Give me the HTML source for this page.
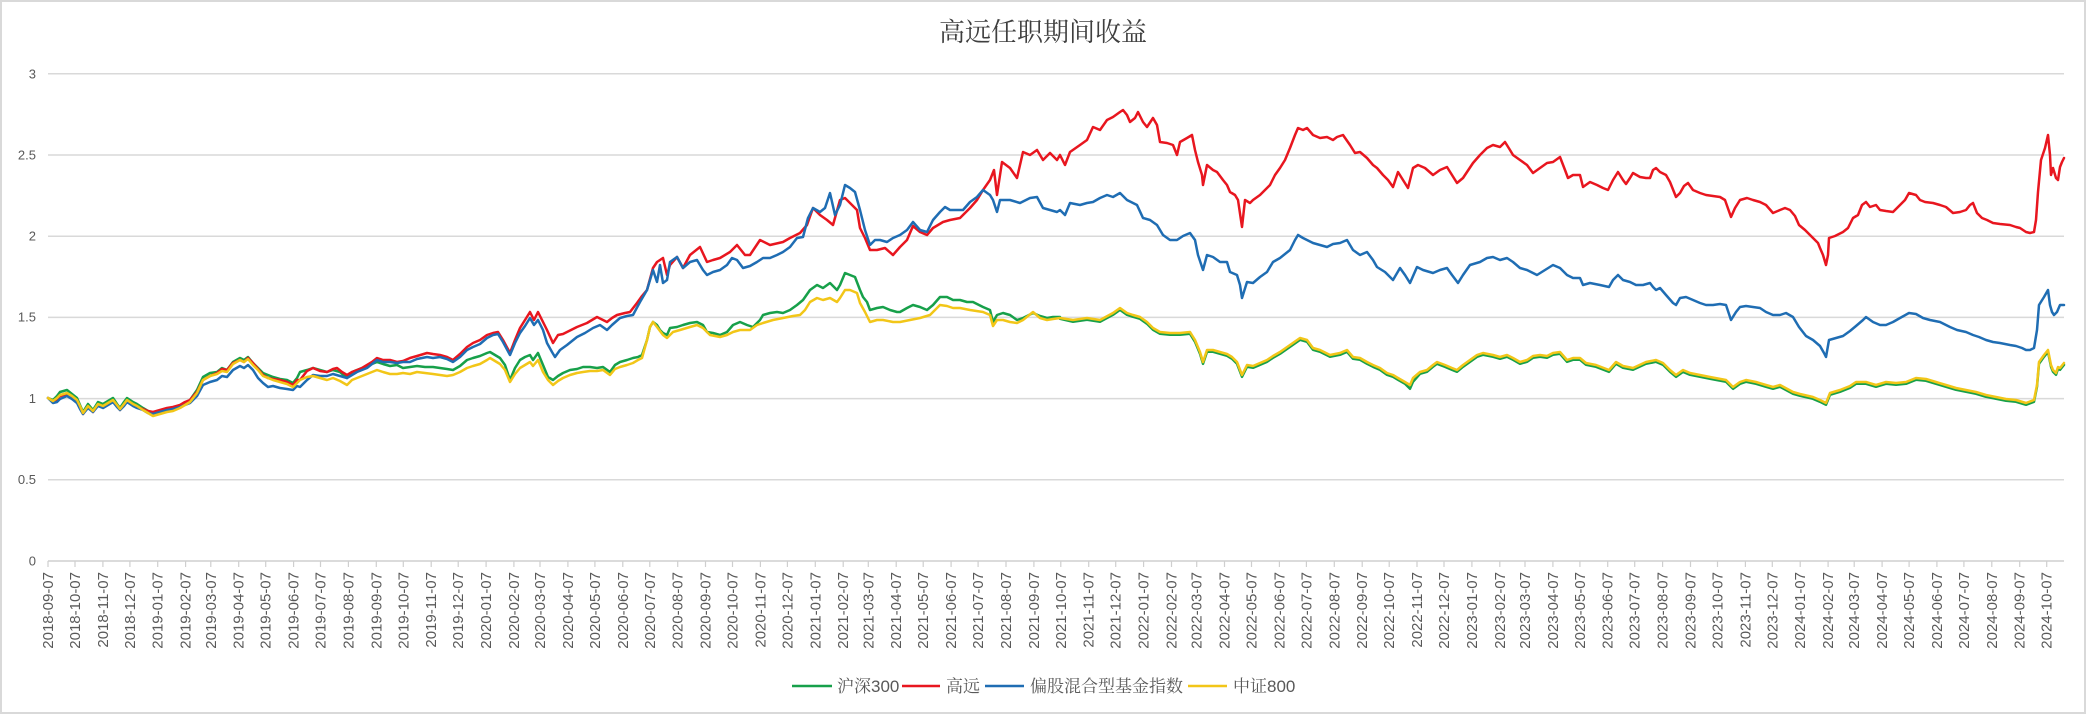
<!DOCTYPE html>
<html>
<head>
<meta charset="utf-8">
<style>
html,body{margin:0;padding:0;background:#fff;}
svg{display:block;}
.ax{font-family:"Liberation Sans","Noto Sans CJK SC",sans-serif;fill:#595959;}
</style>
</head>
<body>
<svg width="2086" height="714" viewBox="0 0 2086 714" xmlns="http://www.w3.org/2000/svg">
<rect x="1" y="1" width="2084" height="712" fill="#ffffff" stroke="#d9d9d9" stroke-width="2"/>

<text x="1043" y="41" text-anchor="middle" font-family="'Liberation Serif','Noto Serif CJK SC',serif" font-size="26" fill="#3f3f3f">高远任职期间收益</text>

<!-- gridlines -->
<g stroke="#d9d9d9" stroke-width="1.5">
<line x1="48" y1="73.8" x2="2064" y2="73.8"/>
<line x1="48" y1="155" x2="2064" y2="155"/>
<line x1="48" y1="236.2" x2="2064" y2="236.2"/>
<line x1="48" y1="317.4" x2="2064" y2="317.4"/>
<line x1="48" y1="398.6" x2="2064" y2="398.6"/>
<line x1="48" y1="479.8" x2="2064" y2="479.8"/>
</g>
<line x1="48" y1="561" x2="2064" y2="561" stroke="#cfcfcf" stroke-width="1.5"/>

<!-- y labels -->
<g class="ax" font-size="13" text-anchor="end">
<text x="36" y="78.5">3</text>
<text x="36" y="159.5">2.5</text>
<text x="36" y="240.5">2</text>
<text x="36" y="321.5">1.5</text>
<text x="36" y="403">1</text>
<text x="36" y="484">0.5</text>
<text x="36" y="565.5">0</text>
</g>

<!-- ticks -->
<path stroke="#cfcfcf" stroke-width="1.2" fill="none" d="M48 561v6M75 561v6M102.9 561v6M129.9 561v6M157.7 561v6M185.6 561v6M210.8 561v6M238.7 561v6M265.7 561v6M293.6 561v6M320.5 561v6M348.4 561v6M376.3 561v6M403.3 561v6M431.2 561v6M458.2 561v6M486.1 561v6M513.9 561v6M540 561v6M567.9 561v6M594.9 561v6M622.8 561v6M649.8 561v6M677.7 561v6M705.5 561v6M732.5 561v6M760.4 561v6M787.4 561v6M815.3 561v6M843.2 561v6M868.3 561v6M896.2 561v6M923.2 561v6M951.1 561v6M978.1 561v6M1006 561v6M1033.9 561v6M1060.8 561v6M1088.7 561v6M1115.7 561v6M1143.6 561v6M1171.5 561v6M1196.7 561v6M1224.5 561v6M1251.5 561v6M1279.4 561v6M1306.4 561v6M1334.3 561v6M1362.2 561v6M1389.2 561v6M1417 561v6M1444 561v6M1471.9 561v6M1499.8 561v6M1525 561v6M1552.9 561v6M1579.9 561v6M1607.7 561v6M1634.7 561v6M1662.6 561v6M1690.5 561v6M1717.5 561v6M1745.4 561v6M1772.3 561v6M1800.2 561v6M1828.1 561v6M1854.2 561v6M1882.1 561v6M1909.1 561v6M1936.9 561v6M1963.9 561v6M1991.8 561v6M2019.7 561v6M2046.7 561v6"/>

<!-- x labels -->
<g class="ax" font-size="15" text-anchor="end">
<text transform="translate(53,572) rotate(-90)">2018-09-07</text>
<text transform="translate(80,572) rotate(-90)">2018-10-07</text>
<text transform="translate(107.9,572) rotate(-90)">2018-11-07</text>
<text transform="translate(134.9,572) rotate(-90)">2018-12-07</text>
<text transform="translate(162.7,572) rotate(-90)">2019-01-07</text>
<text transform="translate(190.6,572) rotate(-90)">2019-02-07</text>
<text transform="translate(215.8,572) rotate(-90)">2019-03-07</text>
<text transform="translate(243.7,572) rotate(-90)">2019-04-07</text>
<text transform="translate(270.7,572) rotate(-90)">2019-05-07</text>
<text transform="translate(298.6,572) rotate(-90)">2019-06-07</text>
<text transform="translate(325.5,572) rotate(-90)">2019-07-07</text>
<text transform="translate(353.4,572) rotate(-90)">2019-08-07</text>
<text transform="translate(381.3,572) rotate(-90)">2019-09-07</text>
<text transform="translate(408.3,572) rotate(-90)">2019-10-07</text>
<text transform="translate(436.2,572) rotate(-90)">2019-11-07</text>
<text transform="translate(463.2,572) rotate(-90)">2019-12-07</text>
<text transform="translate(491.1,572) rotate(-90)">2020-01-07</text>
<text transform="translate(518.9,572) rotate(-90)">2020-02-07</text>
<text transform="translate(545,572) rotate(-90)">2020-03-07</text>
<text transform="translate(572.9,572) rotate(-90)">2020-04-07</text>
<text transform="translate(599.9,572) rotate(-90)">2020-05-07</text>
<text transform="translate(627.8,572) rotate(-90)">2020-06-07</text>
<text transform="translate(654.8,572) rotate(-90)">2020-07-07</text>
<text transform="translate(682.7,572) rotate(-90)">2020-08-07</text>
<text transform="translate(710.5,572) rotate(-90)">2020-09-07</text>
<text transform="translate(737.5,572) rotate(-90)">2020-10-07</text>
<text transform="translate(765.4,572) rotate(-90)">2020-11-07</text>
<text transform="translate(792.4,572) rotate(-90)">2020-12-07</text>
<text transform="translate(820.3,572) rotate(-90)">2021-01-07</text>
<text transform="translate(848.2,572) rotate(-90)">2021-02-07</text>
<text transform="translate(873.3,572) rotate(-90)">2021-03-07</text>
<text transform="translate(901.2,572) rotate(-90)">2021-04-07</text>
<text transform="translate(928.2,572) rotate(-90)">2021-05-07</text>
<text transform="translate(956.1,572) rotate(-90)">2021-06-07</text>
<text transform="translate(983.1,572) rotate(-90)">2021-07-07</text>
<text transform="translate(1011,572) rotate(-90)">2021-08-07</text>
<text transform="translate(1038.9,572) rotate(-90)">2021-09-07</text>
<text transform="translate(1065.8,572) rotate(-90)">2021-10-07</text>
<text transform="translate(1093.7,572) rotate(-90)">2021-11-07</text>
<text transform="translate(1120.7,572) rotate(-90)">2021-12-07</text>
<text transform="translate(1148.6,572) rotate(-90)">2022-01-07</text>
<text transform="translate(1176.5,572) rotate(-90)">2022-02-07</text>
<text transform="translate(1201.7,572) rotate(-90)">2022-03-07</text>
<text transform="translate(1229.5,572) rotate(-90)">2022-04-07</text>
<text transform="translate(1256.5,572) rotate(-90)">2022-05-07</text>
<text transform="translate(1284.4,572) rotate(-90)">2022-06-07</text>
<text transform="translate(1311.4,572) rotate(-90)">2022-07-07</text>
<text transform="translate(1339.3,572) rotate(-90)">2022-08-07</text>
<text transform="translate(1367.2,572) rotate(-90)">2022-09-07</text>
<text transform="translate(1394.2,572) rotate(-90)">2022-10-07</text>
<text transform="translate(1422,572) rotate(-90)">2022-11-07</text>
<text transform="translate(1449,572) rotate(-90)">2022-12-07</text>
<text transform="translate(1476.9,572) rotate(-90)">2023-01-07</text>
<text transform="translate(1504.8,572) rotate(-90)">2023-02-07</text>
<text transform="translate(1530,572) rotate(-90)">2023-03-07</text>
<text transform="translate(1557.9,572) rotate(-90)">2023-04-07</text>
<text transform="translate(1584.9,572) rotate(-90)">2023-05-07</text>
<text transform="translate(1612.7,572) rotate(-90)">2023-06-07</text>
<text transform="translate(1639.7,572) rotate(-90)">2023-07-07</text>
<text transform="translate(1667.6,572) rotate(-90)">2023-08-07</text>
<text transform="translate(1695.5,572) rotate(-90)">2023-09-07</text>
<text transform="translate(1722.5,572) rotate(-90)">2023-10-07</text>
<text transform="translate(1750.4,572) rotate(-90)">2023-11-07</text>
<text transform="translate(1777.3,572) rotate(-90)">2023-12-07</text>
<text transform="translate(1805.2,572) rotate(-90)">2024-01-07</text>
<text transform="translate(1833.1,572) rotate(-90)">2024-02-07</text>
<text transform="translate(1859.2,572) rotate(-90)">2024-03-07</text>
<text transform="translate(1887.1,572) rotate(-90)">2024-04-07</text>
<text transform="translate(1914.1,572) rotate(-90)">2024-05-07</text>
<text transform="translate(1941.9,572) rotate(-90)">2024-06-07</text>
<text transform="translate(1968.9,572) rotate(-90)">2024-07-07</text>
<text transform="translate(1996.8,572) rotate(-90)">2024-08-07</text>
<text transform="translate(2024.7,572) rotate(-90)">2024-09-07</text>
<text transform="translate(2051.7,572) rotate(-90)">2024-10-07</text>
</g>

<g fill="none" stroke-width="2.5" stroke-linejoin="round" stroke-linecap="round">
<!-- 沪深300 green -->
<polyline stroke="#17a04a" points="48,398 53,400 57,396 60,392 67,390 72,394 77,398 80,405 83,412 88,404 93,410 98,402 103,404 108,401 113,398 117,404 120,408 124,402 127,398 133,402 137,404 143,408 148,411 153,413 160,412 167,410 173,409 180,407 185,404 190,400 197,390 203,377 210,373 217,372 222,368 227,370 233,362 240,358 244,360 248,357 253,363 258,368 263,373 268,375 273,377 280,379 287,380 293,383 297,378 300,372 307,370 313,368 320,370 327,372 333,370 340,372 347,378 352,372 357,370 362,368 367,366 372,364 377,362 383,364 390,366 397,365 403,368 410,367 417,366 425,367 433,367 440,368 447,369 453,370 460,366 467,360 473,358 480,356 487,353 490,352 495,355 500,358 505,365 510,380 515,368 520,360 525,357 530,355 533,360 538,353 543,365 548,377 553,380 558,376 563,373 570,370 577,369 583,367 590,367 597,368 603,367 610,372 615,365 620,362 627,360 633,358 638,357 642,355 647,340 650,327 653,322 657,325 660,330 663,333 667,335 670,328 677,327 683,325 690,323 697,322 703,325 707,332 713,333 720,335 727,332 733,325 740,322 747,325 753,327 760,320 763,315 770,313 777,312 783,313 790,310 797,305 803,300 810,290 817,285 823,288 830,283 837,290 840,285 845,273 850,275 855,277 860,290 863,297 867,302 870,310 877,308 883,307 890,310 897,312 900,312 907,308 913,305 920,307 927,310 933,305 940,297 947,297 953,300 960,300 967,302 973,302 983,307 990,310 993,322 997,315 1003,313 1010,315 1017,320 1023,318 1033,313 1040,316 1047,318 1053,317 1060,317"/>
<polyline stroke="#17a04a" transform="translate(0,1.8)" points="1060,317 1073,320 1087,318 1100,320 1113,313 1120,308 1127,313 1133,315 1140,317 1147,322 1153,328 1160,332 1170,333 1180,333 1190,332 1195,340 1200,352 1203,362 1207,350 1213,350 1220,352 1227,354 1232,357 1237,362 1242,375 1247,365 1253,366 1260,363 1267,360 1273,356 1280,352 1290,345 1300,338 1307,340 1313,348 1320,350 1330,355 1340,353 1347,350 1353,357 1360,358 1367,362 1373,365 1380,368 1387,373 1393,375 1398,378 1405,382 1410,387 1413,380 1420,372 1427,370 1433,365 1437,362 1445,365 1452,368 1457,370 1463,365 1470,360 1477,355 1483,353 1493,355 1500,357 1507,355 1513,358 1520,362 1527,360 1533,356 1540,355 1547,356 1553,353 1560,352 1567,360 1573,358 1580,358 1586,363 1596,365 1609,370 1616,362 1623,366 1633,368 1646,362 1656,360 1663,363 1670,370 1676,375 1683,370 1690,373 1700,375 1710,377 1726,380 1733,387 1740,382 1746,380 1756,382 1766,385 1773,387 1780,385 1793,392 1800,394 1813,397 1820,400 1826,403 1830,393 1840,390 1850,386 1856,382 1866,382 1876,385 1886,382 1896,383 1906,382 1916,378 1926,379 1936,382 1946,385 1956,388 1966,390 1976,392 1986,395 1996,397 2006,399 2016,400 2026,403 2034,400 2037,385 2039,362 2044,355 2048,350 2051,365 2053,370 2056,373 2058,367 2060,368 2064,363"/>

<!-- 高远 red -->
<polyline stroke="#e8161f" points="48,398 53,402 57,400 60,396 67,394 72,397 77,401 80,408 83,414 88,407 93,412 98,405 103,407 108,404 113,401 117,406 120,410 124,405 127,401 133,405 137,407 143,409 148,411 153,412 160,410 167,408 173,407 180,405 185,402 190,400 197,392 203,380 210,376 217,373 222,369 227,370 233,363 240,360 244,362 248,358 253,363 258,369 263,375 268,378 273,379 280,380 287,382 293,385 297,380 300,380 307,371 313,368 320,371 327,372 333,369 337,368 342,372 347,375 352,372 357,370 362,368 367,365 372,362 377,358 383,360 390,360 397,362 403,361 410,358 417,356 427,353 433,354 440,355 447,357 453,360 460,354 467,347 473,343 480,340 487,335 493,333 498,332 503,340 510,353 515,340 520,328 525,320 530,312 534,320 538,312 543,322 547,330 553,343 558,335 563,334 567,332 577,327 587,323 597,317 603,320 607,322 612,318 617,315 625,313 630,312 637,303 642,296 647,290 653,268 657,262 663,258 667,275 670,265 677,257 683,268 690,255 700,247 707,262 713,260 720,258 730,252 737,245 745,255 750,255 760,240 770,245 783,242 790,238 800,233 807,225 813,208 820,215 827,220 833,225 840,200 845,198 850,203 857,210 860,228 865,238 870,250 877,250 885,248 893,255 900,247 907,240 913,226 920,232 927,235 933,228 943,222 950,220 960,218 970,208 977,200 983,190 990,180 994,170 997,195 1002,162 1010,168 1017,178 1023,152 1030,155 1037,150 1043,160 1050,153 1057,160 1060,155 1065,165 1070,152 1080,145 1087,140 1093,127 1100,130 1107,120 1113,117 1120,112 1123,110 1127,115 1130,122 1135,118 1138,112 1143,122 1147,127 1153,118 1157,125 1160,142 1167,143 1173,145 1177,155 1180,142 1187,138 1192,135 1195,150 1198,162 1202,175 1203,185 1207,165 1213,170 1217,172 1223,180 1227,185 1230,192 1235,195 1238,200 1242,227 1245,200 1250,203 1253,200 1260,195 1265,190 1270,185 1275,175 1280,168 1285,160 1290,148 1295,135 1298,128 1303,130 1307,128 1313,135 1320,138 1327,137 1333,140 1337,137 1343,135 1350,145 1355,153 1360,152 1367,158 1373,165 1377,168 1383,175 1388,180 1393,187 1398,172 1403,180 1408,188 1413,168 1418,165 1425,168 1433,175 1440,170 1447,167 1452,175 1457,183 1463,178 1467,172 1473,163 1480,155 1487,148 1493,145 1500,147 1505,142 1510,150 1513,155 1520,160 1527,165 1533,173 1540,168 1547,163 1553,162 1560,157 1565,170 1568,178 1573,175 1580,175 1583,187 1590,182 1597,185 1603,188 1608,190 1613,180 1618,172 1623,180 1626,184 1630,178 1633,173 1640,177 1646,178 1650,178 1653,170 1656,168 1660,172 1666,175 1670,182 1676,197 1680,193 1684,186 1688,183 1693,190 1700,193 1706,195 1713,196 1720,197 1725,200 1731,217 1735,208 1740,200 1747,198 1753,200 1760,202 1766,205 1773,213 1780,210 1785,208 1790,210 1795,216 1799,225 1805,230 1813,238 1818,243 1820,248 1823,255 1826,265 1828,255 1829,238 1835,236 1843,232 1848,228 1853,218 1858,215 1862,205 1866,202 1870,207 1876,205 1880,210 1886,211 1893,212 1900,205 1905,200 1909,193 1916,195 1920,200 1925,202 1933,203 1940,205 1946,207 1953,213 1960,212 1966,210 1970,205 1973,203 1977,213 1982,218 1987,220 1993,223 2000,224 2010,225 2016,227 2020,228 2026,232 2030,233 2034,232 2036,220 2038,192 2041,160 2045,148 2048,135 2050,155 2051,175 2053,168 2056,178 2058,180 2060,167 2062,162 2064,158"/>

<!-- 偏股混合型基金指数 blue -->
<polyline stroke="#1f6db3" points="48,398 53,403 57,402 60,399 67,396 72,399 77,403 80,409 83,414 88,408 93,412 98,406 103,408 108,405 113,402 117,407 120,410 124,406 127,402 133,406 137,408 143,410 148,413 153,414 160,412 167,410 173,409 180,407 185,405 190,403 197,396 203,385 210,382 217,380 222,376 227,377 233,370 240,366 244,368 248,365 253,370 258,378 263,383 268,387 273,386 280,388 287,389 293,390 297,386 300,387 307,380 313,375 320,376 327,376 333,374 340,376 347,378 352,375 357,372 362,370 367,368 372,364 377,360 383,362 390,362 397,363 403,362 410,362 417,359 427,357 433,358 440,357 447,359 453,362 460,357 467,350 473,347 480,344 487,338 493,335 498,334 503,342 510,355 515,343 520,333 525,326 530,318 534,325 538,320 543,330 547,343 552,352 555,357 560,350 567,345 577,337 585,333 593,328 600,325 607,330 612,325 620,318 627,316 633,315 640,302 647,290 653,270 657,282 660,265 663,283 667,280 670,262 677,257 683,268 690,262 697,260 703,270 707,275 713,272 720,270 727,265 732,258 737,260 743,268 750,266 757,262 763,258 770,258 777,255 783,252 790,247 797,238 803,237 808,218 813,208 820,212 825,208 830,193 835,215 840,205 845,185 850,188 855,192 860,210 865,230 870,245 875,240 880,240 887,242 893,238 900,235 907,230 913,222 920,230 927,232 933,220 940,212 945,207 950,210 955,210 963,210 970,202 977,197 983,190 990,195 993,200 997,212 1000,200 1010,200 1020,203 1030,198 1037,197 1043,208 1050,210 1057,212 1060,210 1065,215 1070,203 1080,205 1087,203 1093,202 1100,198 1107,195 1113,197 1120,193 1127,200 1133,203 1137,205 1143,218 1150,220 1157,225 1160,230 1163,235 1170,240 1177,240 1183,236 1190,233 1195,240 1198,255 1203,270 1207,255 1213,257 1220,262 1227,262 1230,272 1237,275 1240,285 1242,298 1247,282 1253,283 1260,277 1267,272 1273,262 1280,258 1290,250 1295,240 1298,235 1303,238 1313,243 1327,247 1333,244 1340,243 1347,240 1353,250 1360,255 1367,252 1373,260 1377,267 1385,272 1393,280 1400,268 1405,275 1410,283 1417,267 1423,270 1433,273 1440,270 1447,268 1452,275 1458,283 1463,275 1470,265 1480,262 1487,258 1493,257 1500,260 1507,258 1513,262 1520,268 1527,270 1537,275 1545,270 1553,265 1560,268 1567,275 1573,278 1580,278 1583,285 1590,283 1600,285 1609,287 1613,280 1618,275 1623,280 1630,282 1636,285 1643,285 1650,283 1653,287 1656,290 1660,288 1666,295 1673,303 1676,305 1680,298 1686,297 1693,300 1700,303 1706,305 1713,305 1720,304 1726,305 1731,320 1736,312 1740,307 1746,306 1753,307 1760,308 1766,312 1773,315 1780,315 1786,313 1793,317 1799,327 1806,336 1813,340 1820,346 1824,353 1826,357 1829,340 1836,338 1843,336 1850,331 1856,326 1863,320 1866,317 1873,322 1880,325 1886,325 1893,322 1900,318 1909,313 1916,314 1923,318 1930,320 1940,322 1950,327 1957,330 1966,332 1973,335 1979,337 1986,340 1993,342 2000,343 2010,345 2016,346 2022,348 2026,350 2030,350 2034,348 2037,330 2039,305 2044,297 2048,290 2050,305 2052,312 2054,315 2057,312 2060,305 2064,305"/>

<!-- 中证800 yellow -->
<polyline stroke="#f2c618" points="48,398 53,401 57,398 60,395 67,393 72,396 77,400 80,406 83,413 88,406 93,411 98,404 103,406 108,403 113,400 117,405 120,409 124,404 127,400 133,404 137,406 143,410 148,413 153,416 160,414 167,412 173,411 180,408 185,405 190,402 197,393 203,380 210,376 217,374 222,371 227,372 233,364 240,360 244,362 248,359 253,365 258,370 263,376 268,378 273,380 280,382 287,384 293,387 297,383 300,380 307,377 313,376 320,378 327,380 333,378 340,381 347,385 352,380 357,378 362,376 367,374 372,372 377,370 383,372 390,374 397,374 403,373 410,374 417,372 425,373 433,374 440,375 447,376 453,375 460,372 467,368 473,366 480,364 487,360 490,358 495,361 500,364 505,370 510,382 515,374 520,368 525,365 530,362 533,366 538,360 543,372 548,380 553,385 558,381 563,378 570,375 577,373 583,372 590,371 597,371 603,370 610,375 615,369 620,367 627,365 633,363 638,360 642,358 647,340 650,327 653,322 657,327 663,335 667,338 673,332 680,330 690,327 697,325 703,328 710,335 720,337 727,335 733,332 740,330 750,330 757,325 763,323 773,320 783,318 793,316 800,315 805,310 810,302 817,298 823,300 830,298 837,302 840,298 845,290 850,290 857,293 860,303 865,312 870,322 877,320 883,320 893,322 900,322 910,320 920,318 930,315 940,305 947,306 953,308 960,308 970,310 983,312 990,315 993,326 997,320 1003,320 1010,322 1017,323 1023,320 1033,312 1040,318 1047,320 1053,319 1060,318 1073,320 1087,318 1100,320 1113,313 1120,308 1127,313 1133,315 1140,317 1147,322 1153,328 1160,332 1170,333 1180,333 1190,332 1195,340 1200,352 1203,362 1207,350 1213,350 1220,352 1227,354 1232,357 1237,362 1242,375 1247,365 1253,366 1260,363 1267,360 1273,356 1280,352 1290,345 1300,338 1307,340 1313,348 1320,350 1330,355 1340,353 1347,350 1353,357 1360,358 1367,362 1373,365 1380,368 1387,373 1393,375 1398,378 1405,382 1410,385 1413,378 1420,372 1427,370 1433,365 1437,362 1445,365 1452,368 1457,370 1463,365 1470,360 1477,355 1483,353 1493,355 1500,357 1507,355 1513,358 1520,362 1527,360 1533,356 1540,355 1547,356 1553,353 1560,352 1567,360 1573,358 1580,358 1586,363 1596,365 1609,370 1616,362 1623,366 1633,368 1646,362 1656,360 1663,363 1670,370 1676,375 1683,370 1690,373 1700,375 1710,377 1726,380 1733,387 1740,382 1746,380 1756,382 1766,385 1773,387 1780,385 1793,392 1800,394 1813,397 1820,400 1826,403 1830,393 1840,390 1850,386 1856,382 1866,382 1876,385 1886,382 1896,383 1906,382 1916,378 1926,379 1936,382 1946,385 1956,388 1966,390 1976,392 1986,395 1996,397 2006,399 2016,400 2026,403 2034,400 2037,385 2039,362 2044,355 2048,350 2051,365 2053,370 2056,373 2058,367 2060,368 2064,363"/>
</g>

<!-- legend -->
<g stroke-width="2.5">
<line x1="792" y1="686" x2="832" y2="686" stroke="#17a04a"/>
<line x1="902" y1="686" x2="940" y2="686" stroke="#e8161f"/>
<line x1="985" y1="686" x2="1024" y2="686" stroke="#1f6db3"/>
<line x1="1188" y1="686" x2="1227" y2="686" stroke="#f2c618"/>
</g>
<g font-family="'Liberation Sans','Noto Serif CJK SC',serif" font-size="17" fill="#595959">
<text x="837" y="692">沪深300</text>
<text x="946" y="692">高远</text>
<text x="1030" y="692">偏股混合型基金指数</text>
<text x="1233" y="692">中证800</text>
</g>
</svg>
</body>
</html>
